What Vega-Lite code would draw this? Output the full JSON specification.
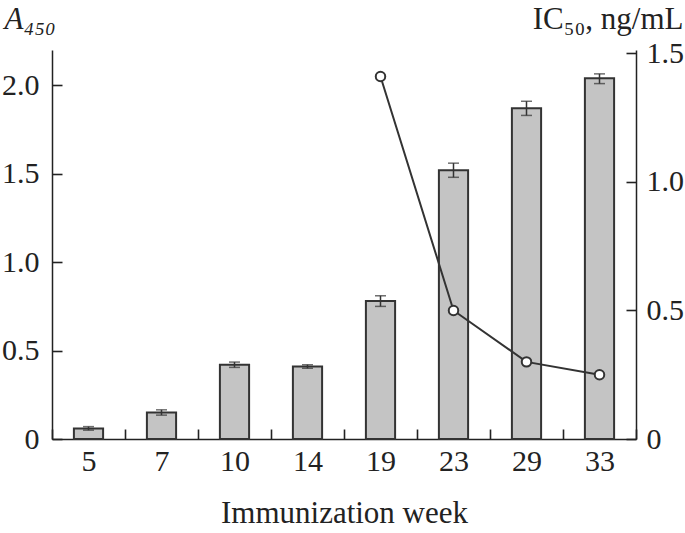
{
  "$schema": "https://vega.github.io/schema/vega-lite/v6.json",
  "autosize": "none",
  "width": 584,
  "height": 389,
  "padding": {"left": 52, "top": 50, "right": 49, "bottom": 94},
  "config": {
    "font": "Liberation Serif",
    "view": {"stroke": null},
    "axis": {
      "grid": false,
      "domainColor": "#222",
      "tickColor": "#222",
      "labelColor": "#222",
      "titleColor": "#222",
      "labelFontSize": 30,
      "titleFontSize": 31,
      "labelFontWeight": "normal",
      "titleFontWeight": "normal",
      "domainWidth": 1.5,
      "tickWidth": 1.6
    }
  },
  "data": {
    "values": [
      {"week": 5, "a450": 0.06, "lo": 0.05, "hi": 0.07},
      {"week": 7, "a450": 0.15, "lo": 0.135, "hi": 0.165},
      {"week": 10, "a450": 0.42, "lo": 0.405, "hi": 0.435},
      {"week": 14, "a450": 0.41, "lo": 0.40, "hi": 0.42},
      {"week": 19, "a450": 0.78, "lo": 0.75, "hi": 0.81, "ic50": 1.41},
      {"week": 23, "a450": 1.52, "lo": 1.48, "hi": 1.56, "ic50": 0.50},
      {"week": 29, "a450": 1.87, "lo": 1.83, "hi": 1.91, "ic50": 0.30},
      {"week": 33, "a450": 2.04, "lo": 2.01, "hi": 2.065, "ic50": 0.25}
    ]
  },
  "layer": [
    {
      "layer": [
        {
          "mark": {"type": "bar", "fill": "#c4c4c4", "stroke": "#333", "strokeWidth": 2, "width": {"band": 0.4}},
          "encoding": {
            "x": {
              "field": "week",
              "type": "ordinal",
              "scale": {"domain": [5, 7, 10, 14, 19, 23, 29, 33], "paddingInner": 0, "paddingOuter": 0},
              "axis": {
                "title": "Immunization week",
                "labelAngle": 0,
                "tickBand": "extent",
                "tickSize": -10,
                "labelPadding": 17,
                "titlePadding": 22
              }
            },
            "y": {
              "field": "a450",
              "type": "quantitative",
              "title": "A₄₅₀",
              "scale": {"domain": [0, 2.2], "nice": false},
              "axis": {
                "titleFontStyle": "italic",
                "values": [0, 0.5, 1, 1.5, 2],
                "labelExpr": "datum.value == 0 ? '0' : format(datum.value, '.1f')",
                "tickSize": -10,
                "labelPadding": 23,
                "titleAngle": 0,
                "titleAlign": "left",
                "titleBaseline": "alphabetic",
                "titleX": -48,
                "titleY": -22
              }
            }
          }
        },
        {
          "mark": {"type": "errorbar", "ticks": {"size": 11}, "color": "#333", "thickness": 1.5},
          "encoding": {
            "x": {"field": "week", "type": "ordinal"},
            "y": {"field": "lo", "type": "quantitative", "title": "A₄₅₀", "scale": {"domain": [0, 2.2], "nice": false}},
            "y2": {"field": "hi"}
          }
        }
      ]
    },
    {
      "transform": [{"filter": "isValid(datum.ic50)"}],
      "layer": [
        {
          "mark": {"type": "line", "color": "#333", "strokeWidth": 2},
          "encoding": {
            "x": {"field": "week", "type": "ordinal"},
            "y": {
              "field": "ic50",
              "type": "quantitative",
              "title": "IC₅₀, ng/mL",
              "scale": {"domain": [0, 1.513], "nice": false},
              "axis": {
                "orient": "right",
                "values": [0, 0.5, 1, 1.5],
                "labelExpr": "datum.value == 0 ? '0' : format(datum.value, '.1f')",
                "tickSize": -10,
                "labelPadding": 20,
                "titleAngle": 0,
                "titleAlign": "right",
                "titleBaseline": "alphabetic",
                "titleX": 47,
                "titleY": -22
              }
            }
          }
        },
        {
          "mark": {"type": "point", "filled": true, "fill": "white", "stroke": "#333", "strokeWidth": 2, "size": 90, "opacity": 1},
          "encoding": {
            "x": {"field": "week", "type": "ordinal"},
            "y": {"field": "ic50", "type": "quantitative", "title": "IC₅₀, ng/mL"}
          }
        }
      ]
    }
  ],
  "resolve": {"scale": {"y": "independent"}}
}
